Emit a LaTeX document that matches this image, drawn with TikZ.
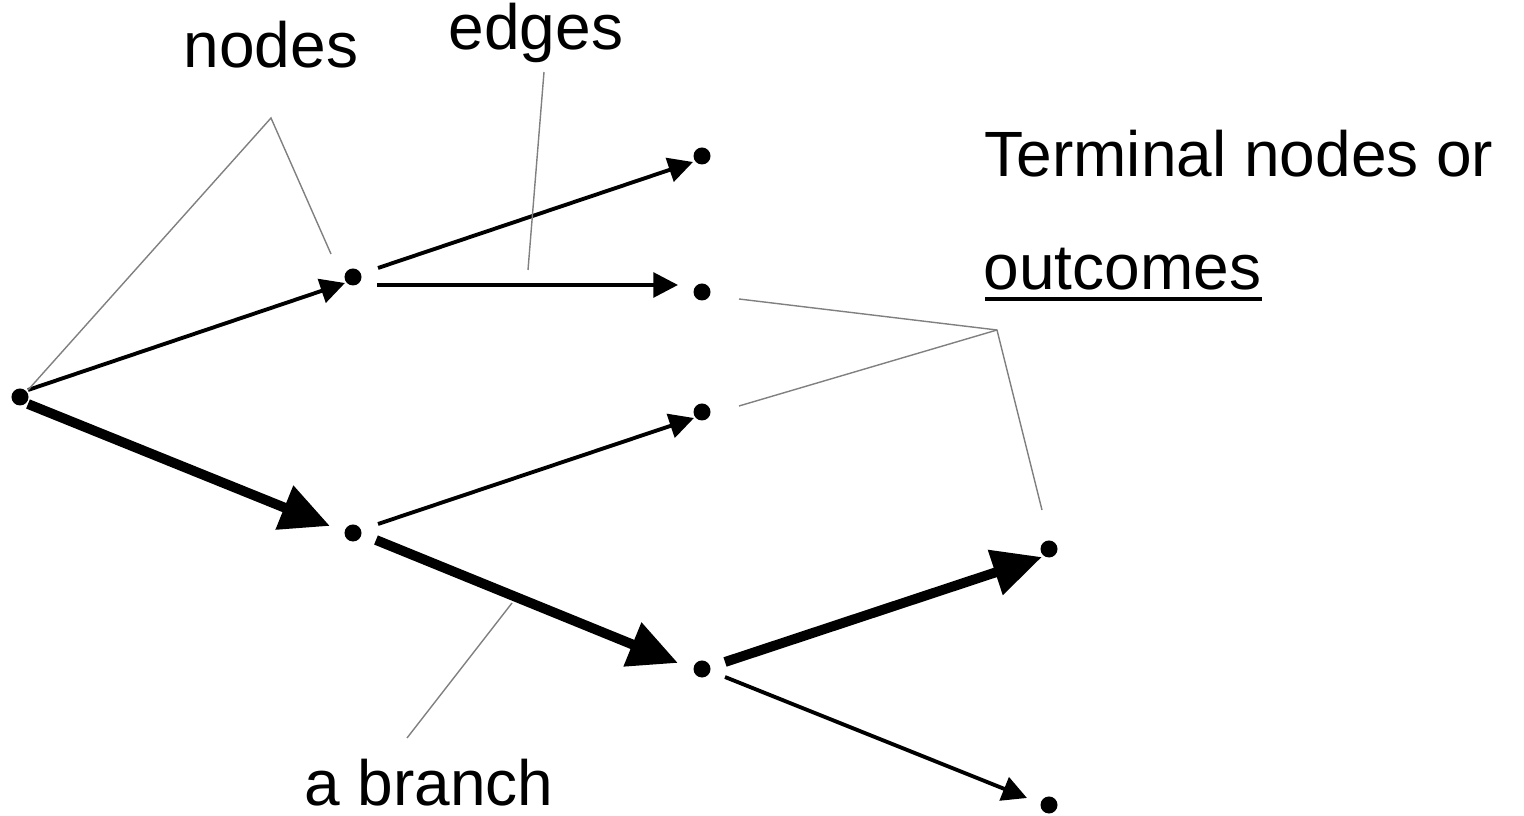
\documentclass[tikz,border=0pt]{standalone}
\usepackage{fontspec}
\setmainfont{Liberation Sans}
\usetikzlibrary{arrows.meta}
\begin{document}
\begin{tikzpicture}[x=0.01cm,y=-0.01cm,
  dot/.style={circle,fill=black,inner sep=0pt,minimum size=0.17cm},
  thinedge/.style={line width=1.1pt,-{Triangle[length=7pt,width=7pt]}},
  thickedge/.style={line width=2.8pt,-{Triangle[length=14pt,width=12.8pt]}},
  leader/.style={line width=0.4pt,draw=black!50},
  lbl/.style={inner sep=0pt,font=\fontsize{18.2pt}{22pt}\selectfont}]
\useasboundingbox (0,0) rectangle (1524,816);

% tree nodes
\node[dot] (root) at (20,397) {};
\node[dot] (A)    at (353,277) {};
\node[dot] (B)    at (353,533) {};
\node[dot] (T1)   at (702,156) {};
\node[dot] (T2)   at (702,292) {};
\node[dot] (T3)   at (702,412) {};
\node[dot] (C)    at (702,669) {};
\node[dot] (T4)   at (1049,549) {};
\node[dot] (T5)   at (1049,805) {};

% edges
\draw[thinedge]  ([shift={(8,-7)}]root.center) -- ([shift={(-8,6)}]A.center);
\draw[thickedge] ([shift={(8,7)}]root.center)  -- ([shift={(-23,-7)}]B.center);
\draw[thinedge]  ([shift={(25,-9)}]A.center)   -- ([shift={(-9,6)}]T1.center);
\draw[thinedge]  ([shift={(24,8)}]A.center)    -- ([shift={(-24,-7)}]T2.center);
\draw[thinedge]  ([shift={(25,-9)}]B.center)   -- ([shift={(-8,6)}]T3.center);
\draw[thickedge] ([shift={(23,7)}]B.center)    -- ([shift={(-24,-6)}]C.center);
\draw[thickedge] ([shift={(23,-7)}]C.center)   -- ([shift={(-7,8)}]T4.center);
\draw[thinedge]  ([shift={(23,8)}]C.center)    -- ([shift={(-22,-7)}]T5.center);

% labels
\node[lbl,anchor=base] (nodeslbl) at (271,68) {nodes};
\node[lbl,anchor=base] (edgeslbl) at (536,50) {edges};
\node[lbl,anchor=base west] (term) at (984,177) {Terminal nodes or};
\node[lbl,anchor=base west] (outc) at (983,290) {outcomes};
\node[lbl,anchor=base] (brlbl) at (429,805) {a branch};
\draw[line width=1pt] ([shift={(2,9)}]outc.base west) -- ([shift={(279,9)}]outc.base west);

% leader lines
\coordinate (napex) at (271,118);
\coordinate (eapex) at (544,72);
\coordinate (eend)  at (528,270);
\coordinate (oapex) at (997,330);
\coordinate (bstart) at (407,738);
\coordinate (bend)  at (512,603);
\draw[leader] ([shift={(8,-7)}]root.center) -- (napex) -- ([shift={(-22,-23)}]A.center);
\draw[leader] (eapex) -- (eend);
\draw[leader] ([shift={(37,7)}]T2.center) -- (oapex) -- ([shift={(-7,-39)}]T4.center);
\draw[leader] ([shift={(37,-6)}]T3.center) -- (oapex);
\draw[leader] (bstart) -- (bend);
\end{tikzpicture}
\end{document}
